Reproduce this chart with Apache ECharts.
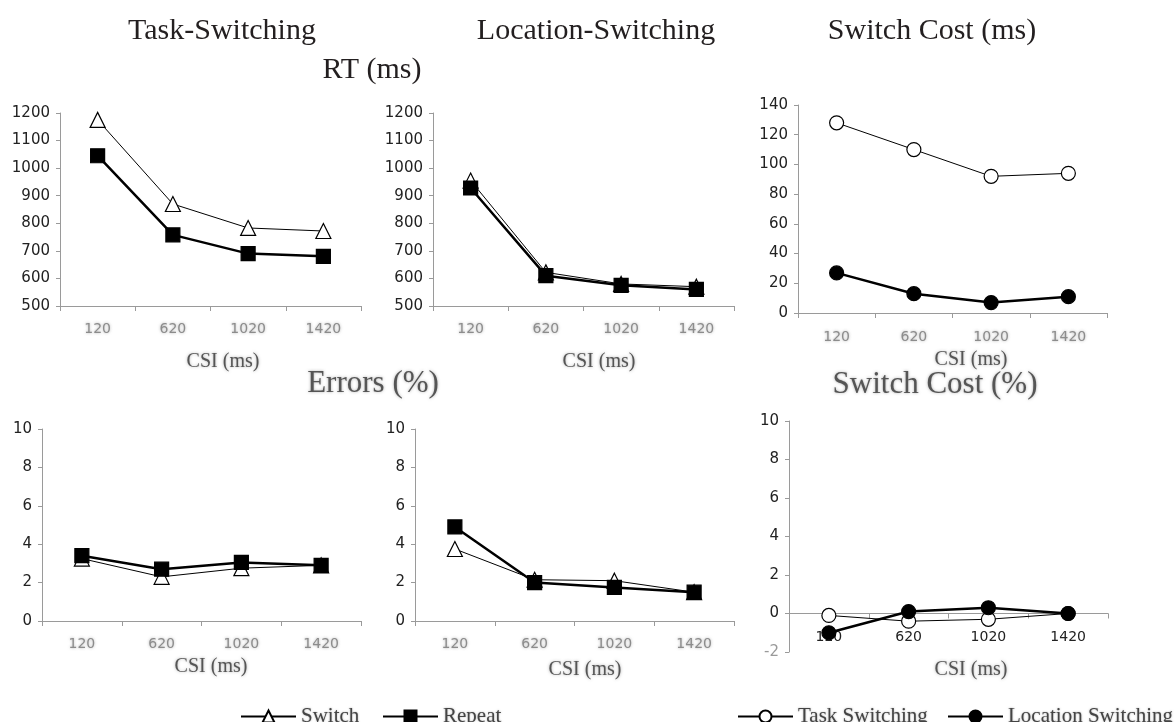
<!DOCTYPE html>
<html>
<head>
<meta charset="utf-8">
<script src="https://cdn.jsdelivr.net/npm/echarts@6/dist/echarts.min.js"></script>
<style>
  html, body { margin: 0; padding: 0; background: #fff; }
  #chart { width: 1176px; height: 722px; }
</style>
</head>
<body>
<div id="chart"></div>
<script>
// Cue-stimulus interval categories (ms)
const csi = ['120', '620', '1020', '1420'];

// Reaction times (ms)
const taskRtSwitch = [1175, 870, 783, 772];
const taskRtRepeat = [1045, 758, 690, 680];
const locRtSwitch = [955, 622, 580, 570];
const locRtRepeat = [928, 610, 575, 560];
const costRtTask = [128, 110, 92, 94];
const costRtLoc = [27, 13, 7, 11];

// Error rates (%)
const taskErrSwitch = [3.25, 2.3, 2.75, 2.9];
const taskErrRepeat = [3.4, 2.7, 3.05, 2.9];
const locErrSwitch = [3.75, 2.15, 2.1, 1.5];
const locErrRepeat = [4.9, 2.0, 1.75, 1.5];
const costErrTask = [-0.1, -0.4, -0.3, 0];
const costErrLoc = [-1.0, 0.1, 0.3, 0];

const SERIF = "'Liberation Serif', 'DejaVu Serif', serif";
const SANS = "'DejaVu Sans', 'Liberation Sans', sans-serif";
const AXIS_GRAY = '#9a9a9a';

const grids = [
  { left: 60, top: 113, width: 301, height: 193 },
  { left: 433, top: 113, width: 301, height: 193 },
  { left: 798, top: 105, width: 309, height: 208 },
  { left: 42, top: 429, width: 319, height: 192 },
  { left: 415, top: 429, width: 319, height: 192 },
  { left: 789, top: 421, width: 319, height: 231 }
];

const yRanges = [
  { min: 500, max: 1200, interval: 100 },
  { min: 500, max: 1200, interval: 100 },
  { min: 0, max: 140, interval: 20 },
  { min: 0, max: 10, interval: 2 },
  { min: 0, max: 10, interval: 2 },
  { min: -2, max: 10, interval: 2 }
];

const softLabel = {
  color: '#8c8c8c',
  fontFamily: SANS,
  fontSize: 14,
  textShadowColor: 'rgba(120,120,120,0.6)',
  textShadowBlur: 3
};

// The lower-right panel keeps its category labels right under the zero line
const xAxes = grids.map((g, i) => ({
  type: 'category',
  gridIndex: i,
  data: csi,
  boundaryGap: true,
  axisLine: { show: true, onZero: i === 5, lineStyle: { color: AXIS_GRAY, width: 1 } },
  axisTick: { show: true, length: 5, lineStyle: { color: AXIS_GRAY } },
  axisLabel: i === 5
    ? { margin: -22, color: '#222', fontFamily: SANS, fontSize: 14 }
    : Object.assign({ margin: i === 2 ? 17 : 16 }, softLabel)
}));

const yAxes = yRanges.map((r, i) => ({
  type: 'value',
  gridIndex: i,
  min: r.min,
  max: r.max,
  interval: r.interval,
  splitLine: { show: false },
  axisLine: { show: true, lineStyle: { color: AXIS_GRAY, width: 1 } },
  axisTick: { show: true, length: 4, lineStyle: { color: AXIS_GRAY } },
  axisLabel: {
    margin: 10,
    fontFamily: SANS,
    fontSize: 15,
    formatter: (v) => String(v),
    color: (v) => (i === 5 && v < 0 ? '#9a9a9a' : '#222')
  }
}));

function lineSeries(name, data, idx, kind) {
  const thin = kind === 'switch' || kind === 'task';
  let symbol, size, fill;
  if (kind === 'switch') { symbol = 'triangle'; size = 15; fill = '#fff'; }
  else if (kind === 'repeat') { symbol = 'rect'; size = 14; fill = '#000'; }
  else if (kind === 'task') { symbol = 'circle'; size = 14; fill = '#fff'; }
  else { symbol = 'circle'; size = 14; fill = '#000'; }
  return {
    name: name,
    type: 'line',
    xAxisIndex: idx,
    yAxisIndex: idx,
    data: data,
    symbol: symbol,
    symbolSize: size,
    showAllSymbol: true,
    lineStyle: { color: '#000', width: thin ? 1 : 2.5 },
    itemStyle: { color: fill, borderColor: '#000', borderWidth: 1.2 },
    emphasis: { disabled: true },
    animation: false
  };
}

const series = [
  lineSeries('Switch', taskRtSwitch, 0, 'switch'),
  lineSeries('Repeat', taskRtRepeat, 0, 'repeat'),
  lineSeries('Switch', locRtSwitch, 1, 'switch'),
  lineSeries('Repeat', locRtRepeat, 1, 'repeat'),
  lineSeries('Task Switching', costRtTask, 2, 'task'),
  lineSeries('Location Switching', costRtLoc, 2, 'loc'),
  lineSeries('Switch', taskErrSwitch, 3, 'switch'),
  lineSeries('Repeat', taskErrRepeat, 3, 'repeat'),
  lineSeries('Switch', locErrSwitch, 4, 'switch'),
  lineSeries('Repeat', locErrRepeat, 4, 'repeat'),
  lineSeries('Task Switching', costErrTask, 5, 'task'),
  lineSeries('Location Switching', costErrLoc, 5, 'loc')
];

// Text centred on (x, y)
function heading(text, x, y, size, soft) {
  return {
    text: text,
    left: x,
    top: y,
    textAlign: 'center',
    textVerticalAlign: 'middle',
    padding: 0,
    textStyle: Object.assign({
      fontFamily: SERIF,
      fontWeight: 'normal',
      fontSize: size,
      color: soft ? '#555' : '#231f20'
    }, soft ? { textShadowColor: 'rgba(90,90,90,0.5)', textShadowBlur: 3 } : {})
  };
}

const titles = [
  heading('Task-Switching', 222, 31, 30, false),
  heading('Location-Switching', 596, 31, 30, false),
  heading('Switch Cost (ms)', 932, 31, 30, false),
  heading('RT (ms)', 372, 70, 30, false),
  heading('Errors (%)', 373, 384, 31, true),
  heading('Switch Cost (%)', 935, 385, 31, true),
  heading('CSI (ms)', 223, 362, 20, true),
  heading('CSI (ms)', 599, 362, 20, true),
  heading('CSI (ms)', 971, 360, 20, true),
  heading('CSI (ms)', 211, 667, 20, true),
  heading('CSI (ms)', 585, 670, 20, true),
  heading('CSI (ms)', 971, 670, 20, true)
];

function legendItem(name, left) {
  return {
    data: [name],
    left: left,
    top: 701,
    itemWidth: 55,
    itemHeight: 15,
    itemGap: 6,
    selectedMode: false,
    textStyle: {
      fontFamily: SERIF,
      fontSize: 21,
      color: '#444',
      textShadowColor: 'rgba(90,90,90,0.5)',
      textShadowBlur: 2
    }
  };
}

const chart = echarts.init(document.getElementById('chart'), null, { renderer: 'canvas' });
chart.setOption({
  backgroundColor: '#fff',
  animation: false,
  title: titles,
  legend: [
    legendItem('Switch', 235),
    legendItem('Repeat', 377),
    legendItem('Task Switching', 732),
    legendItem('Location Switching', 942)
  ],
  grid: grids,
  xAxis: xAxes,
  yAxis: yAxes,
  series: series
});
</script>
</body>
</html>
